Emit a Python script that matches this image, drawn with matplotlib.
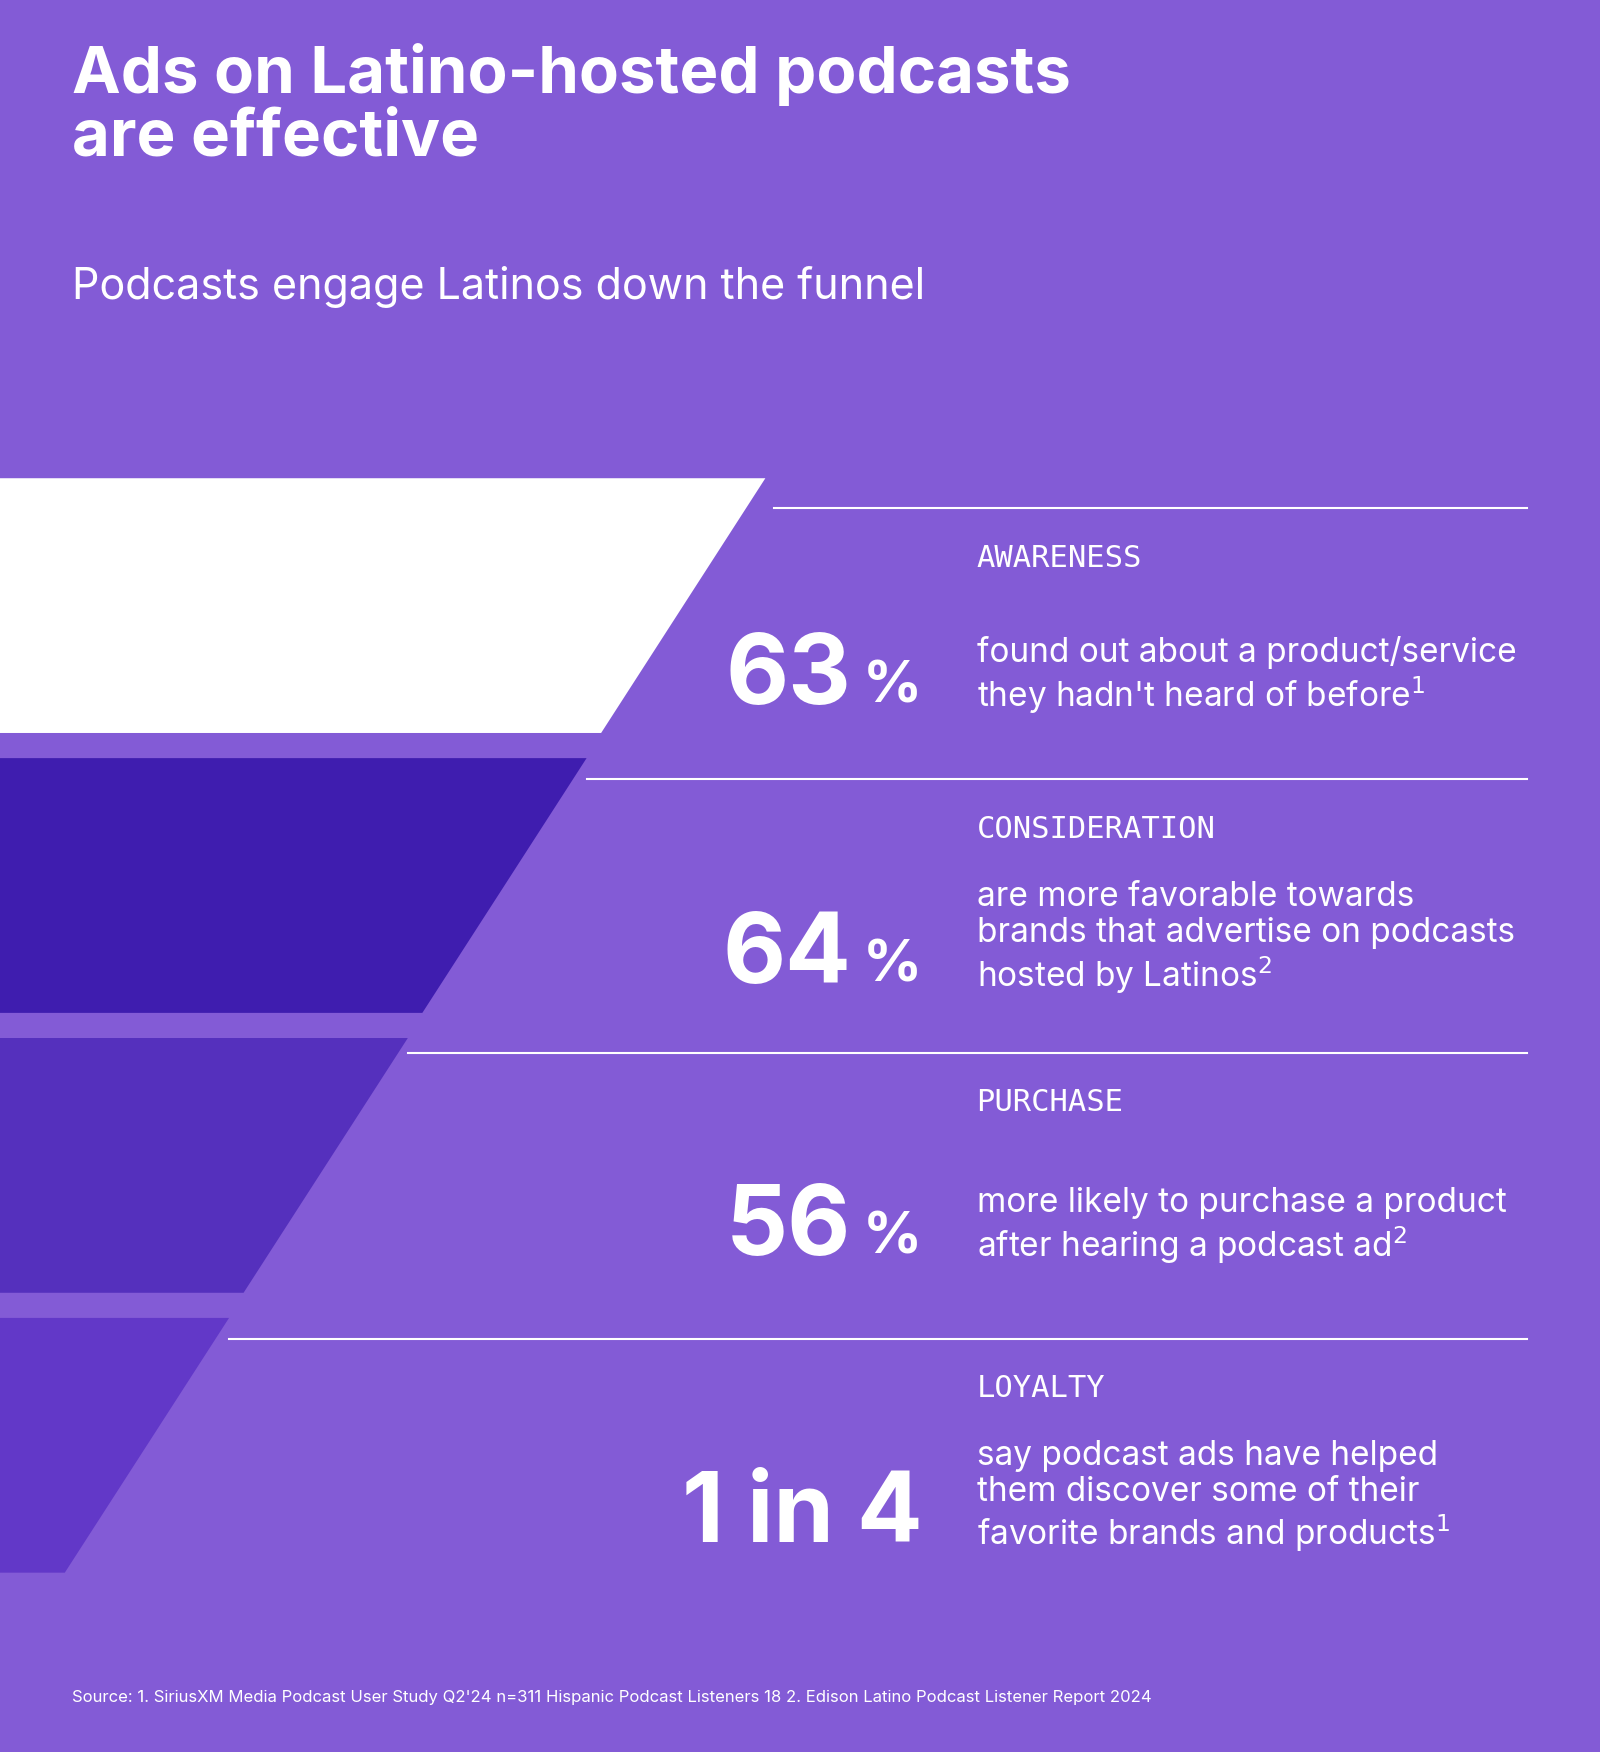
import matplotlib
matplotlib.use("Agg")
import matplotlib.pyplot as plt
from matplotlib.patches import Polygon

stages = ["AWARENESS", "CONSIDERATION", "PURCHASE", "LOYALTY"]
values = ["63", "64", "56", "1 in 4"]
units = ["%", "%", "%", ""]
descriptions = [
    "found out about a product/service\nthey hadn't heard of before$^{1}$",
    "are more favorable towards\nbrands that advertise on podcasts\nhosted by Latinos$^{2}$",
    "more likely to purchase a product\nafter hearing a podcast ad$^{2}$",
    "say podcast ads have helped\nthem discover some of their\nfavorite brands and products$^{1}$",
]
funnel_colors = ["#FFFFFF", "#3F1DAF", "#5530BD", "#6238C8"]

BG = "#835BD6"
W, H = 1432, 1568
fig = plt.figure(figsize=(16, 17.52), dpi=100, facecolor=BG)
ax = fig.add_axes([0, 0, 1, 1])
ax.set_xlim(0, W); ax.set_ylim(H, 0); ax.axis("off")
ax.set_facecolor(BG)

fam = ["Inter", "DejaVu Sans"]
ax.text(64, 95, "Ads on Latino-hosted podcasts\nare effective", color="white", fontsize=47,
        fontweight="bold", family=fam, va="center", ha="left", linespacing=1.05)
ax.text(64, 257, "Podcasts engage Latinos down the funnel", color="white", fontsize=31,
        family=fam, va="center", ha="left")

top0, band, gap = 428, 228, 22.5
slope = 147 / 228
for i, (stg, val, unit, desc, col) in enumerate(zip(stages, values, units, descriptions, funnel_colors)):
    t = top0 + i * (band + gap)
    b = t + band
    xr_top = 685 - i * 160
    xr_bot = xr_top - band * slope
    ax.add_patch(Polygon([(0, t), (xr_top, t), (xr_bot, b), (0, b)], closesocket=None if False else True,
                         facecolor=col, edgecolor="none")) if False else \
        ax.add_patch(Polygon([(0, t), (xr_top, t), (xr_bot, b), (0, b)], closed=True,
                             facecolor=col, edgecolor="none"))
    # separator line
    line_y = [455, 697, 942, 1198][i]
    ax.plot([xr_top + 8 if i == 0 else xr_top - 0, 1367], [line_y, line_y], color="white", lw=1.5)
    ax.text(874, line_y + 45, stg, color="white", fontsize=22, family=["DejaVu Sans Mono"],
            va="center", ha="left")
    cy = [607, 857, 1100, 1357][i]
    if unit:
        ax.text(762, cy, val, color="white", fontsize=70, fontweight="bold", family=fam,
                va="center", ha="right")
        ax.text(772, cy + 8, unit, color="white", fontsize=42, fontweight="bold", family=fam,
                va="center", ha="left")
    else:
        ax.text(826, cy, val, color="white", fontsize=70, fontweight="bold", family=fam,
                va="center", ha="right")
    dy = [605, 840, 1098, 1340][i]
    ax.text(874, dy, desc, color="white", fontsize=24, family=fam, va="center", ha="left",
            linespacing=1.15)

ax.text(64, 1519, "Source: 1. SiriusXM Media Podcast User Study Q2'24 n=311 Hispanic Podcast Listeners 18 2. Edison Latino Podcast Listener Report 2024",
        color="white", fontsize=12, family=fam, va="center", ha="left")

fig.savefig("out.png", dpi=100, facecolor=BG)
